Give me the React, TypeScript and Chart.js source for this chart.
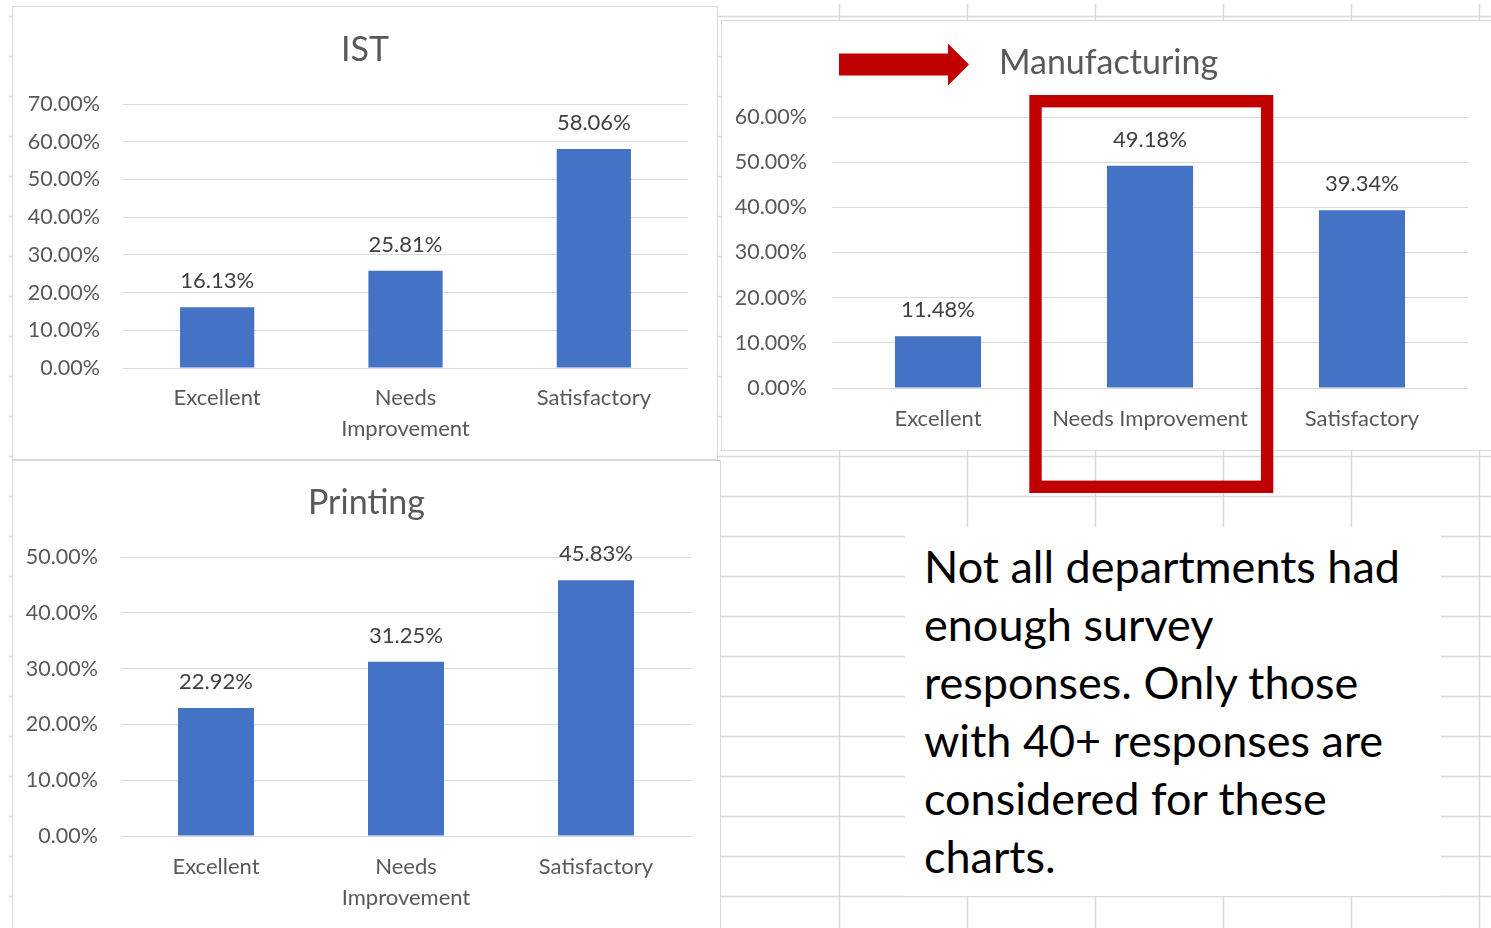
import React, { useEffect, useRef } from "react";
import { Chart, registerables } from "chart.js";

Chart.register(...registerables);

// ---------- data ----------
const categoriesIST: (string | string[])[] = ["Excellent", ["Needs", "Improvement"], "Satisfactory"];
const valuesIST = [16.13, 25.81, 58.06];
const axisMaxIST = 70;

const categoriesManufacturing: (string | string[])[] = ["Excellent", "Needs Improvement", "Satisfactory"];
const valuesManufacturing = [11.48, 49.18, 39.34];
const axisMaxManufacturing = 60;

const categoriesPrinting: (string | string[])[] = ["Excellent", ["Needs", "Improvement"], "Satisfactory"];
const valuesPrinting = [22.92, 31.25, 45.83];
const axisMaxPrinting = 50;

const tickStep = 10;

const noteLines = [
  "Not all departments had",
  "enough survey",
  "responses. Only those",
  "with 40+ responses are",
  "considered for these",
  "charts.",
];

// ---------- styles ----------
const FONT = "Lato, 'Noto Sans', sans-serif";
const BAR = "#4472C4";
const GRID = "#d9d9d9";
const AXIS_TEXT = "#595959";
const LABEL_TEXT = "#404040";
const RED = "#C00000";

const fmtPct = (v: number) => Number(v).toFixed(2) + "%";

const panelPlugin = {
  id: "panelDecor",
  afterDatasetsDraw(chart: any, _args: any, opts: any) {
    const { ctx } = chart;
    const meta = chart.getDatasetMeta(0);
    const data = chart.data.datasets[0].data as number[];
    ctx.save();
    ctx.font = `${opts.labelSize}px ${FONT}`;
    ctx.fillStyle = LABEL_TEXT;
    ctx.textAlign = "center";
    ctx.textBaseline = "middle";
    meta.data.forEach((bar: any, i: number) => {
      ctx.fillText(fmtPct(data[i]), bar.x, bar.y - opts.labelOffset);
    });
    ctx.restore();
  },
  afterDraw(chart: any, _args: any, opts: any) {
    const { ctx, width } = chart;
    ctx.save();
    ctx.font = `${opts.titleSize}px ${FONT}`;
    ctx.fillStyle = AXIS_TEXT;
    ctx.textAlign = "center";
    ctx.textBaseline = "middle";
    ctx.fillText(opts.title, width / 2, opts.titleY);
    ctx.restore();
  },
};

type Geo = {
  left: number; top: number; width: number; height: number;
  plotLeft: number; plotRight: number; plotTop: number; xAxisH: number;
  yPad: number; xPad: number; titleY: number; barPct: number;
};

function BarPanel(props: {
  title: string;
  labels: (string | string[])[];
  values: number[];
  max: number;
  geo: Geo;
}) {
  const ref = useRef<HTMLCanvasElement>(null);
  const { geo } = props;
  const cw = geo.width - 2;
  const ch = geo.height - 2;
  useEffect(() => {
    if (!ref.current) return;
    const chart = new Chart(ref.current, {
      type: "bar",
      data: {
        labels: props.labels as any,
        datasets: [
          {
            data: props.values,
            backgroundColor: BAR,
            borderWidth: 0,
            barPercentage: geo.barPct,
            categoryPercentage: 1,
          },
        ],
      },
      plugins: [panelPlugin as any],
      options: {
        responsive: false,
        animation: false,
        devicePixelRatio: 1,
        layout: { padding: { left: 0, top: geo.plotTop, right: cw - geo.plotRight, bottom: 0 } },
        plugins: {
          legend: { display: false },
          tooltip: { enabled: false },
          title: { display: false },
          panelDecor: { title: props.title, titleY: geo.titleY, titleSize: 34, labelSize: 22, labelOffset: 26 },
        } as any,
        scales: {
          x: {
            grid: { display: false, drawTicks: false },
            border: { display: false },
            ticks: {
              color: AXIS_TEXT,
              font: { family: FONT, size: 22, lineHeight: "31px" },
              padding: geo.xPad,
              maxRotation: 0,
              minRotation: 0,
              autoSkip: false,
            },
            afterFit: (s: any) => {
              s.height = geo.xAxisH;
            },
          },
          y: {
            min: 0,
            max: props.max,
            grid: { color: GRID, lineWidth: 1, drawTicks: false },
            border: { display: false },
            ticks: {
              stepSize: tickStep,
              color: AXIS_TEXT,
              font: { family: FONT, size: 21.5 },
              padding: geo.yPad,
              callback: (v: any) => fmtPct(Number(v)),
            },
            afterFit: (s: any) => {
              s.width = geo.plotLeft;
            },
          },
        },
      },
    });
    return () => chart.destroy();
  }, []);
  return (
    <div
      style={{
        position: "absolute",
        left: geo.left,
        top: geo.top,
        width: geo.width,
        height: geo.height,
        border: `1px solid ${GRID}`,
        boxSizing: "border-box",
        background: "#fff",
      }}
    >
      <canvas ref={ref} width={cw} height={ch} style={{ display: "block", width: cw, height: ch }} />
    </div>
  );
}

const geoIST: Geo = {
  left: 12, top: 6, width: 706, height: 454,
  plotLeft: 110, plotRight: 675, plotTop: 97, xAxisH: 91,
  yPad: 23, xPad: 14, titleY: 43, barPct: 0.394,
};
const geoManufacturing: Geo = {
  left: 721, top: 20, width: 775, height: 431,
  plotLeft: 110, plotRight: 746, plotTop: 96, xAxisH: 62,
  yPad: 25, xPad: 15, titleY: 42, barPct: 0.406,
};
const geoPrinting: Geo = {
  left: 12, top: 460, width: 709, height: 470,
  plotLeft: 108, plotRight: 678, plotTop: 96, xAxisH: 93,
  yPad: 23, xPad: 15, titleY: 42, barPct: 0.4,
};

function SheetGrid() {
  const cols: number[] = [];
  for (let k = 0; k < 6; k++) cols.push(839.5 + 128 * k);
  const rows: number[] = [];
  for (let k = 0; k < 23; k++) rows.push(16.5 + 40 * k);
  return (
    <svg width={1491} height={928} style={{ position: "absolute", left: 0, top: 0 }}>
      {cols.map((x) => (
        <line key={"c" + x} x1={x} y1={4} x2={x} y2={928} stroke={GRID} strokeWidth={1.5} />
      ))}
      {rows.map((y) => (
        <line key={"r" + y} x1={9} y1={y} x2={1491} y2={y} stroke={GRID} strokeWidth={1.5} />
      ))}
    </svg>
  );
}

function Annotations() {
  return (
    <svg width={1491} height={928} style={{ position: "absolute", left: 0, top: 0, pointerEvents: "none" }}>
      <polygon points="839,53.5 948,53.5 948,43.5 969,64.5 948,85.5 948,75.5 839,75.5" fill={RED} />
      <rect x={1035.5} y={101.2} width={231.6} height={385.6} fill="none" stroke={RED} strokeWidth={12.4} />
    </svg>
  );
}

export default function App() {
  return (
    <div
      style={{
        position: "fixed",
        left: 0,
        top: 0,
        width: 1491,
        height: 928,
        overflow: "hidden",
        background: "#fff",
      }}
    >
      <SheetGrid />
      <BarPanel title="IST" labels={categoriesIST} values={valuesIST} max={axisMaxIST} geo={geoIST} />
      <BarPanel
        title="Manufacturing"
        labels={categoriesManufacturing}
        values={valuesManufacturing}
        max={axisMaxManufacturing}
        geo={geoManufacturing}
      />
      <BarPanel
        title="Printing"
        labels={categoriesPrinting}
        values={valuesPrinting}
        max={axisMaxPrinting}
        geo={geoPrinting}
      />
      <div
        style={{
          position: "absolute",
          left: 905,
          top: 527,
          width: 536,
          height: 369,
          background: "#fff",
          boxSizing: "border-box",
          paddingLeft: 19,
          paddingTop: 10,
          fontFamily: FONT,
          fontSize: 45,
          lineHeight: "58px",
          color: "#000",
          whiteSpace: "nowrap",
        }}
      >
        {noteLines.map((t) => (
          <div key={t}>{t}</div>
        ))}
      </div>
      <Annotations />
    </div>
  );
}
